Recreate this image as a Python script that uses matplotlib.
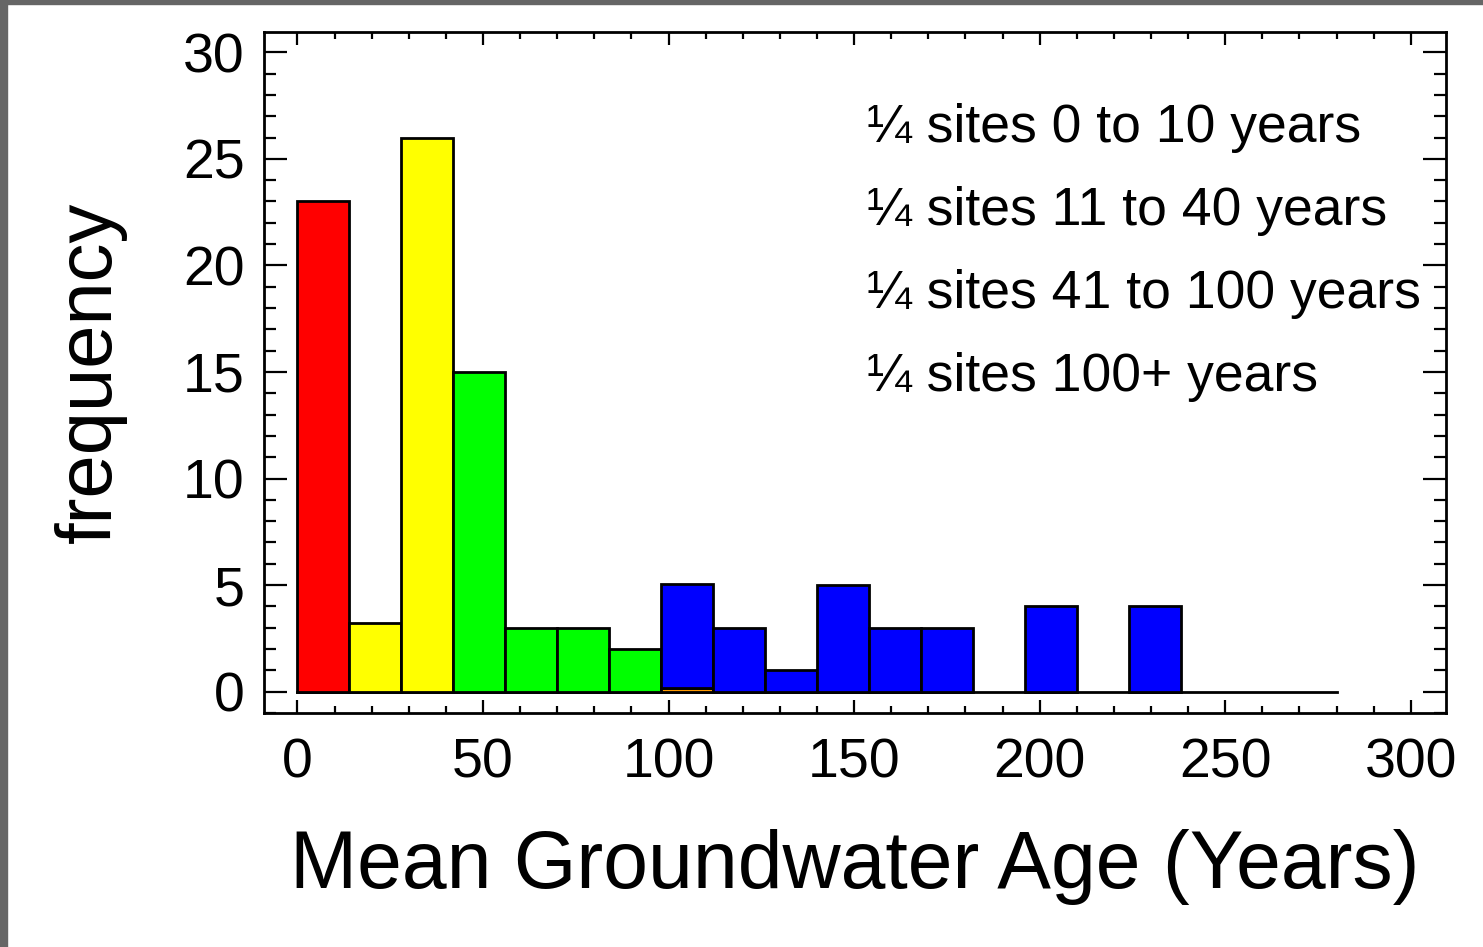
"""Histogram of mean groundwater age, coloured by age quartile."""
import matplotlib
matplotlib.use("Agg")
import matplotlib.pyplot as plt
import numpy as np
from matplotlib.patches import Rectangle
from matplotlib.ticker import MultipleLocator

plt.rcParams["font.family"] = ["Liberation Sans", "DejaVu Sans"]

BIN_WIDTH = 14
BIN_START = 0
N_BINS = 20

# counts per bin, one array per age class
red_counts = [23, 0, 0, 0, 0, 0, 0, 0, 0, 0, 0, 0, 0, 0, 0, 0, 0, 0, 0, 0]
yellow_counts = [0, 3.2, 26, 0, 0, 0, 0, 0, 0, 0, 0, 0, 0, 0, 0, 0, 0, 0, 0, 0]
green_counts = [0, 0, 0, 15, 3, 3, 2, 0, 0, 0, 0, 0, 0, 0, 0, 0, 0, 0, 0, 0]
orange_counts = [0, 0, 0, 0, 0, 0, 0, 0.15, 0, 0, 0, 0, 0, 0, 0, 0, 0, 0, 0, 0]
blue_counts = [0, 0, 0, 0, 0, 0, 0, 4.9, 3, 1, 5, 3, 3, 0, 4, 0, 4, 0, 0, 0]

labels = [
    "\u00bc sites 0 to 10 years",
    "\u00bc sites 11 to 40 years",
    "\u00bc sites 41 to 100 years",
    "\u00bc sites 100+ years",
]

COLORS = {"red": "#ff0000", "yellow": "#ffff00", "green": "#00ff00",
          "orange": "#ff9900", "blue": "#0000ff"}

fig = plt.figure(figsize=(14.83, 9.47), dpi=100)
ax = fig.add_axes([264 / 1483, 1 - 713 / 947, (1446 - 264) / 1483, (713 - 32) / 947])

left_edges = BIN_START + BIN_WIDTH * np.arange(N_BINS)


def draw(counts, color, bottom=None):
    counts = np.asarray(counts, dtype=float)
    base = np.zeros(N_BINS) if bottom is None else np.asarray(bottom, dtype=float)
    mask = counts > 0
    ax.bar(left_edges[mask], counts[mask], width=BIN_WIDTH, bottom=base[mask],
           align="edge", color=color, edgecolor="black", linewidth=2, zorder=3)


# baseline of the histogram
ax.plot([left_edges[0], left_edges[-1] + BIN_WIDTH], [0, 0], color="black",
        linewidth=2, zorder=2)
draw(red_counts, COLORS["red"])
draw(yellow_counts, COLORS["yellow"])
draw(green_counts, COLORS["green"])
draw(orange_counts, COLORS["orange"])
draw(blue_counts, COLORS["blue"], bottom=orange_counts)

ax.set_xlim(-9, 309.5)
ax.set_ylim(-1, 30.95)

ax.xaxis.set_major_locator(MultipleLocator(50))
ax.xaxis.set_minor_locator(MultipleLocator(10))
ax.yaxis.set_major_locator(MultipleLocator(5))
ax.yaxis.set_minor_locator(MultipleLocator(1))
ax.tick_params(axis="x", which="major", direction="in", top=True, length=9.5,
               width=1.6, labelsize=40, pad=18)
ax.tick_params(axis="x", which="minor", direction="in", top=True, length=5, width=1.6)
ax.tick_params(axis="y", which="major", direction="in", right=True, length=16.5,
               width=1.6, labelsize=40, pad=14)
ax.tick_params(axis="y", which="minor", direction="in", right=True, length=8.5, width=1.6)
for s in ax.spines.values():
    s.set_linewidth(2)

ax.set_xlabel("Mean Groundwater Age (Years)", fontsize=58, labelpad=28)
ax.set_ylabel("frequency", fontsize=56, labelpad=40)

text_y = [26.45, 22.55, 18.65, 14.75]
for lbl, ty in zip(labels, text_y):
    ax.text(153.5, ty, lbl, fontsize=38.5, ha="left", va="center")

# grey frame on top and left edges of the image
fig.patches.append(Rectangle((0, 1 - 4 / 947), 1, 4 / 947, transform=fig.transFigure,
                             color="#666666", zorder=10))
fig.patches.append(Rectangle((0, 0), 7 / 1483, 1, transform=fig.transFigure,
                             color="#666666", zorder=10))

fig.savefig("out.png", dpi=100)
